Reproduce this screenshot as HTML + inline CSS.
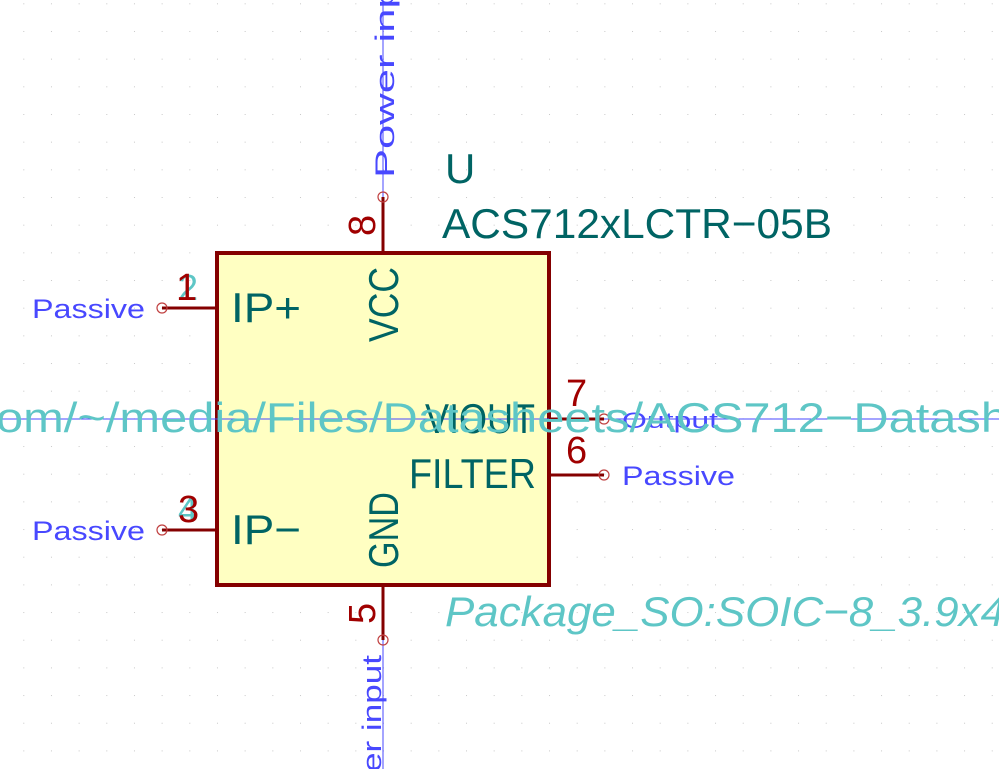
<!DOCTYPE html>
<html><head><meta charset="utf-8"><style>
html,body{margin:0;padding:0;background:#fff;overflow:hidden;width:999px;height:769px;}
svg{display:block;overflow:hidden;}
text{font-family:"Liberation Sans",sans-serif;}
</style></head><body>
<svg width="999" height="769" viewBox="0 0 999 769" xmlns="http://www.w3.org/2000/svg">
<defs>
<pattern id="g" x="383" y="197" width="27.67" height="27.67" patternUnits="userSpaceOnUse">
<rect x="0" y="0" width="1" height="1" fill="#c8c8c8"/>
</pattern>
</defs>
<rect width="999" height="769" fill="url(#g)"/>
<rect x="217" y="253" width="332" height="332" fill="#ffffc2" stroke="#840000" stroke-width="4"/>
<line x1="383" y1="0" x2="383" y2="197" stroke="#4848ff" stroke-width="1"/>
<line x1="383" y1="640" x2="383" y2="769" stroke="#4848ff" stroke-width="1"/>
<line x1="0" y1="419" x2="999" y2="419" stroke="#4848ff" stroke-width="1"/>
<g stroke="#840000" stroke-width="3">
<line x1="162" y1="308" x2="217" y2="308"/>
<line x1="162" y1="530" x2="217" y2="530"/>
<line x1="549" y1="419" x2="604" y2="419"/>
<line x1="549" y1="475" x2="604" y2="475"/>
<line x1="383" y1="197" x2="383" y2="253"/>
<line x1="383" y1="585" x2="383" y2="640"/>
</g>
<g fill="none" stroke="#c04040" stroke-width="1.2">
<circle cx="162" cy="308" r="5"/>
<circle cx="162" cy="530" r="5"/>
<circle cx="604" cy="419" r="5"/>
<circle cx="604" cy="475" r="5"/>
<circle cx="383" cy="197" r="5"/>
<circle cx="383" cy="640" r="5"/>
</g>
<g fill="#4848ff" font-size="27">
<text x="32" y="318" textLength="113" lengthAdjust="spacingAndGlyphs">Passive</text>
<text x="32" y="540" textLength="113" lengthAdjust="spacingAndGlyphs">Passive</text>
<text x="622" y="485" textLength="113" lengthAdjust="spacingAndGlyphs">Passive</text>
<text x="622" y="428" font-size="22" textLength="96" lengthAdjust="spacingAndGlyphs">Output</text>
<text transform="translate(394,178) rotate(-90)" textLength="230" lengthAdjust="spacingAndGlyphs">Power input</text>
<text transform="translate(381,772) rotate(-90)" textLength="117" lengthAdjust="spacingAndGlyphs">er input</text>
</g>
<g fill="#5ec6c6" font-size="36">
<text x="178" y="300">2</text>
<text x="178" y="522">4</text>
</g>
<g fill="#a00000" font-size="38">
<text x="176" y="300">1</text>
<text x="178" y="522">3</text>
<text x="566" y="406">7</text>
<text x="566" y="463">6</text>
<text transform="translate(375,236) rotate(-90)">8</text>
<text transform="translate(375,624) rotate(-90)">5</text>
</g>
<g fill="#006464" font-size="42">
<text x="231" y="322" textLength="70" lengthAdjust="spacingAndGlyphs">IP+</text>
<text x="231" y="544" textLength="70" lengthAdjust="spacingAndGlyphs">IP−</text>
<text x="425" y="433" textLength="110" lengthAdjust="spacingAndGlyphs">VIOUT</text>
<text x="409" y="488" textLength="127" lengthAdjust="spacingAndGlyphs">FILTER</text>
<text transform="translate(398,342) rotate(-90)" textLength="75" lengthAdjust="spacingAndGlyphs">VCC</text>
<text transform="translate(398,568) rotate(-90)" textLength="76" lengthAdjust="spacingAndGlyphs">GND</text>
<text x="445" y="183">U</text>
<text x="442" y="238" textLength="390" lengthAdjust="spacingAndGlyphs">ACS712xLCTR−05B</text>
</g>
<g fill="#5ec6c6" font-size="42">
<text x="-4" y="432" textLength="1012" lengthAdjust="spacingAndGlyphs">om/~/media/Files/Datasheets/ACS712−Datash</text>
<text x="445" y="626" font-style="italic" textLength="560" lengthAdjust="spacingAndGlyphs">Package_SO:SOIC−8_3.9x4</text>
</g>
</svg>
</body></html>
